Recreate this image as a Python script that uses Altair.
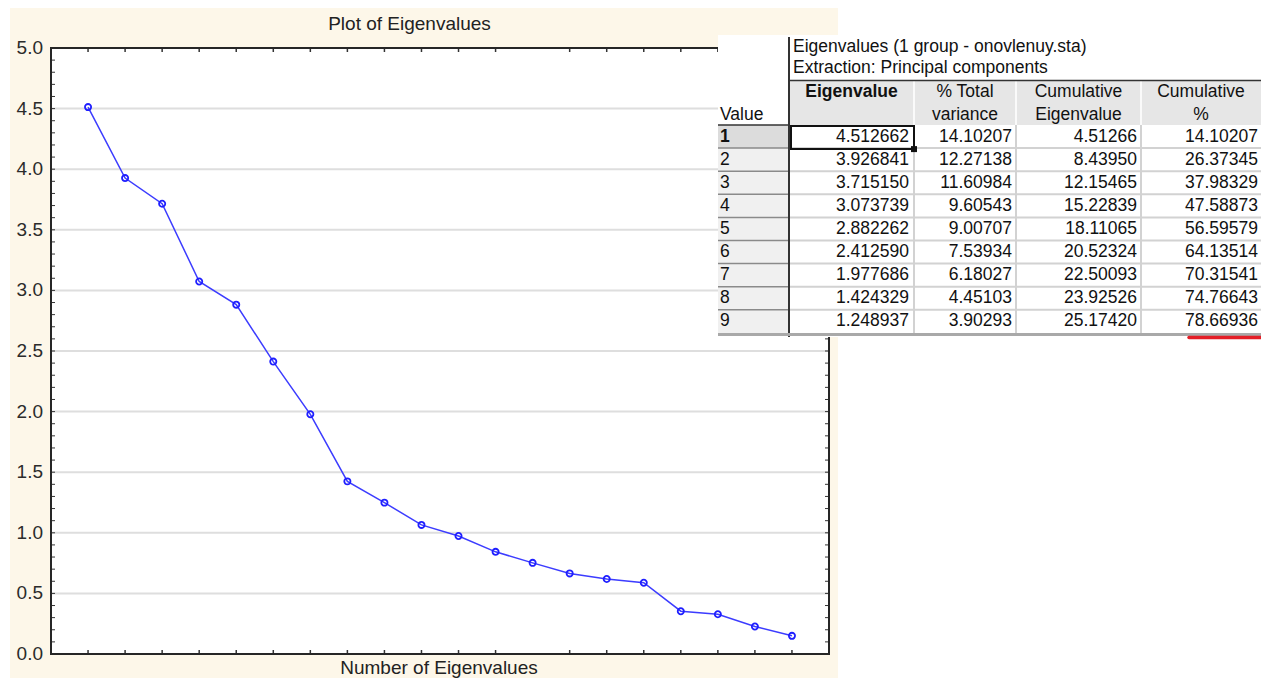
import altair as alt
import pandas as pd

# ------------------------------------------------------------------ data
component = list(range(1, 21))
eigenvalues = [4.512662, 3.926841, 3.715150, 3.073739, 2.882262, 2.412590,
               1.977686, 1.424329, 1.248937, 1.065, 0.974, 0.843, 0.752,
               0.665, 0.619, 0.588, 0.353, 0.328, 0.227, 0.150]

table_value = [1, 2, 3, 4, 5, 6, 7, 8, 9]
table_eig = [4.512662, 3.926841, 3.715150, 3.073739, 2.882262, 2.412590,
             1.977686, 1.424329, 1.248937]
pct_total = [14.10207, 12.27138, 11.60984, 9.60543, 9.00707, 7.53934,
             6.18027, 4.45103, 3.90293]
cum_eig = [4.51266, 8.43950, 12.15465, 15.22839, 18.11065, 20.52324,
           22.50093, 23.92526, 25.17420]
cum_pct = [14.10207, 26.37345, 37.98329, 47.58873, 56.59579, 64.13514,
           70.31541, 74.76643, 78.66936]

y_labels = [0.0, 0.5, 1.0, 1.5, 2.0, 2.5, 3.0, 3.5, 4.0, 4.5, 5.0]
y_grid = [0.5, 1.0, 1.5, 2.0, 2.5, 3.0, 3.5, 4.0, 4.5]
y_minor = [round(0.1 * k, 1) for k in range(1, 50)]
x_ticks = [1, 2, 3, 4, 5, 6, 7, 8, 9, 10, 11, 12, 14, 15, 16, 17, 18, 19, 20]

title_text = "Plot of Eigenvalues"
xtitle_text = "Number of Eigenvalues"
table_title1 = "Eigenvalues (1 group - onovlenuy.sta)"
table_title2 = "Extraction: Principal components"

# ------------------------------------------------------------------ layout
W, H = 778, 606
FONT = "Liberation Sans"
TXT = "#111111"
TS = 17.5
one = pd.DataFrame({"a": [0]})

xs = alt.Scale(domain=[0, 21], nice=False, zero=False)
ys = alt.Scale(domain=[0, 5], nice=False)

def box(x1, x2, y1, y2, **kw):
    return alt.Chart(one).mark_rect(**kw).encode(
        x=alt.value(x1), x2=alt.value(x2), y=alt.value(y1), y2=alt.value(y2))

def hline(x1, x2, y, **kw):
    return alt.Chart(one).mark_rule(**kw).encode(
        x=alt.value(x1), x2=alt.value(x2), y=alt.value(y))

def vline(x, y1, y2, **kw):
    return alt.Chart(one).mark_rule(**kw).encode(
        x=alt.value(x), y=alt.value(y1), y2=alt.value(y2))

def label(txt, x, y, align="center", size=TS, weight="normal", color=TXT):
    return alt.Chart(one).mark_text(
        text=txt, font=FONT, fontSize=size, fontWeight=weight, color=color,
        align=align, baseline="middle").encode(x=alt.value(x), y=alt.value(y))

# ------------------------------------------------------------------ plot
cream = box(-41, 787, -45, 640, color="#fdf7e9")
white = box(0, W, 0, H, color="white")

grid = alt.Chart(pd.DataFrame({"g": y_grid})).mark_rule(
    color="#dedede", strokeWidth=2).encode(
    y=alt.Y("g:Q", scale=ys, axis=None), x=alt.value(0), x2=alt.value(W))

minor_df = pd.DataFrame({"t": y_minor})
left_ticks = alt.Chart(minor_df).mark_rule(color="#333", strokeWidth=1).encode(
    y=alt.Y("t:Q", scale=ys, axis=None), x=alt.value(0), x2=alt.value(4))
right_ticks = alt.Chart(minor_df).mark_rule(color="#333", strokeWidth=1).encode(
    y=alt.Y("t:Q", scale=ys, axis=None), x=alt.value(W - 4), x2=alt.value(W))

xt_df = pd.DataFrame({"t": x_ticks})
top_ticks = alt.Chart(xt_df).mark_rule(color="#333", strokeWidth=1.5).encode(
    x=alt.X("t:Q", scale=xs, axis=None), y=alt.value(0), y2=alt.value(4))
bottom_ticks = alt.Chart(xt_df).mark_rule(color="#333", strokeWidth=1.5).encode(
    x=alt.X("t:Q", scale=xs, axis=None), y=alt.value(H - 4), y2=alt.value(H))

frame = box(0, W, 0, H, fillOpacity=0, stroke="#262626", strokeWidth=2)

ylab_df = pd.DataFrame({"v": y_labels, "s": [f"{v:.1f}" for v in y_labels]})
ylabels = alt.Chart(ylab_df).mark_text(
    font=FONT, fontSize=19, color="#2b2b2b", align="right",
    baseline="middle").encode(
    y=alt.Y("v:Q", scale=ys, axis=None), x=alt.value(-8), text="s:N")

line_df = pd.DataFrame({"n": component, "ev": eigenvalues})
line = alt.Chart(line_df).mark_line(color="#3c3cff", strokeWidth=1.5).encode(
    x=alt.X("n:Q", scale=xs, axis=None),
    y=alt.Y("ev:Q", scale=ys, axis=None))
points = alt.Chart(line_df).mark_point(
    shape="circle", filled=False, color="#1f1fff", size=38, strokeWidth=1.8,
    opacity=1).encode(
    x=alt.X("n:Q", scale=xs, axis=None),
    y=alt.Y("ev:Q", scale=ys, axis=None))

ptitle = label(title_text, 358.5, -24, size=19, color="#222")
xtitle = label(xtitle_text, 388, 620, size=19, color="#222")

# ------------------------------------------------------------------ table
T_L, T_DIV, C1, C2, C3, T_R = 667, 738, 863, 965, 1090, 1210
ROW_TOP, ROW_H = 77, 23.1
HDR_TOP = 33
BOTTOM = ROW_TOP + 9 * ROW_H

tbl_bg = box(T_L, T_R, -13, BOTTOM + 4, color="white")
hdr_bg = box(T_DIV, T_R, HDR_TOP, ROW_TOP, color="#e6e6e6")
rowhdr_bg = box(T_L, T_DIV, ROW_TOP, BOTTOM, color="#f0f0f0")
row1_bg = box(T_L, T_DIV, ROW_TOP, ROW_TOP + ROW_H, color="#dcdcdc")

hdr_seps = [vline(x, HDR_TOP, ROW_TOP, color="#fafafa", strokeWidth=2)
            for x in (C1, C2, C3)]
data_seps = [vline(x, ROW_TOP, BOTTOM, color="#d2d2d2", strokeWidth=2)
             for x in (C1, C2, C3)]

sep_df = pd.DataFrame({"k": list(range(1, 9))})
row_seps = alt.Chart(sep_df).transform_calculate(
    py=f"{ROW_TOP} + {ROW_H} * datum.k").mark_rule(
    color="#d2d2d2", strokeWidth=2).encode(
    y=alt.Y("py:Q", scale=None), x=alt.value(T_DIV), x2=alt.value(T_R))
rowhdr_seps = alt.Chart(sep_df).transform_calculate(
    py=f"{ROW_TOP} + {ROW_H} * datum.k").mark_rule(
    color="#8a8a8a", strokeWidth=1.5).encode(
    y=alt.Y("py:Q", scale=None), x=alt.value(T_L), x2=alt.value(T_DIV))

hdr_line = hline(T_DIV, T_R, HDR_TOP - 0.5, color="#333", strokeWidth=1.5)
rowhdr_top = hline(T_L, T_DIV, ROW_TOP, color="#333", strokeWidth=1.5)
divider = vline(T_DIV, -11, BOTTOM + 4, color="#333", strokeWidth=2)
bottom_line = hline(T_L, T_R, BOTTOM + 1.5, color="#a9a9a9", strokeWidth=3)
red_line = hline(1138, T_R, BOTTOM + 4.5, color="#e41e26", strokeWidth=3.5,
                 strokeCap="round")

sel_box = box(T_DIV + 2, C1, ROW_TOP + 1, ROW_TOP + ROW_H + 1, fillOpacity=0,
              stroke="#111", strokeWidth=2)
sel_knob = box(C1 - 3, C1 + 3, ROW_TOP + ROW_H - 2, ROW_TOP + ROW_H + 4,
               color="#111")

# header texts
hdr_texts = [
    label(table_title1, 742, -1.5, align="left"),
    label(table_title2, 742, 20, align="left"),
    label("Eigenvalue", (T_DIV + C1) / 2, 44, weight="bold"),
    label("% Total", (C1 + C2) / 2, 44),
    label("variance", (C1 + C2) / 2, 66.5),
    label("Cumulative", (C2 + C3) / 2, 44),
    label("Eigenvalue", (C2 + C3) / 2, 66.5),
    label("Cumulative", (C3 + T_R) / 2, 44),
    label("%", (C3 + T_R) / 2, 66.5),
    label("Value", 669, 66.5, align="left"),
]

cols_vals = [table_eig, pct_total, cum_eig, cum_pct]
decimals = [6, 5, 5, 5]
recs = []
for r in range(len(table_value)):
    for c in range(4):
        recs.append({"r": r, "c": c,
                     "txt": f"{cols_vals[c][r]:.{decimals[c]}f}"})
cells_df = pd.DataFrame(recs)
cells = alt.Chart(cells_df).transform_calculate(
    px=f"[{C1 - 5}, {C2 - 4}, {C3 - 4}, {T_R - 3}][datum.c]",
    py=f"{ROW_TOP + ROW_H / 2} + {ROW_H} * datum.r").mark_text(
    font=FONT, fontSize=TS, color=TXT, align="right", baseline="middle").encode(
    x=alt.X("px:Q", scale=None), y=alt.Y("py:Q", scale=None), text="txt:N")

rl_df = pd.DataFrame({"r": list(range(len(table_value))),
                      "lab": [str(v) for v in table_value]})

def row_label_layer(filt, weight):
    return alt.Chart(rl_df).transform_filter(filt).transform_calculate(
        py=f"{ROW_TOP + ROW_H / 2} + {ROW_H} * datum.r").mark_text(
        font=FONT, fontSize=TS, fontWeight=weight, color=TXT, align="left",
        baseline="middle").encode(
        x=alt.value(669), y=alt.Y("py:Q", scale=None), text="lab:N")

row_labels_bold = row_label_layer("datum.r == 0", "bold")
row_labels = row_label_layer("datum.r > 0", "normal")

layers = [cream, white, grid, left_ticks, right_ticks, top_ticks, bottom_ticks,
          frame, line, points, ylabels, ptitle, xtitle,
          tbl_bg, hdr_bg, rowhdr_bg, row1_bg] + hdr_seps + data_seps + [
          row_seps, rowhdr_seps, hdr_line, rowhdr_top, divider, bottom_line,
          red_line, sel_box, sel_knob] + hdr_texts + [cells, row_labels_bold,
                                                      row_labels]

chart = alt.layer(*layers).properties(
    width=W, height=H,
    padding={"left": 43, "top": 40, "right": 432, "bottom": 24},
    autosize=alt.AutoSizeParams(type="none"),
    background="white",
).configure_view(strokeWidth=0)

chart.save("out.html", embed_options={"renderer": "svg", "actions": False})
